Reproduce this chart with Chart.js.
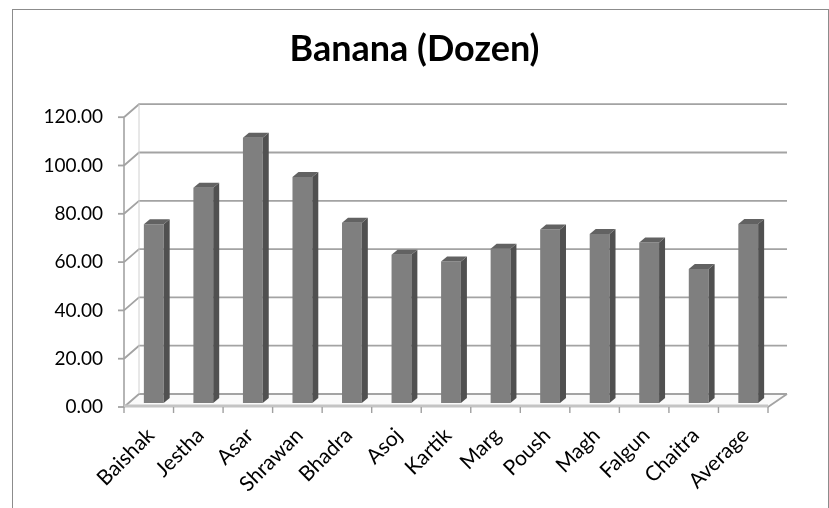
<!DOCTYPE html>
<html lang="en">
<head>
    <meta charset="UTF-8">
    <title>Banana (Dozen)</title>
    <script src="https://cdn.jsdelivr.net/npm/chart.js@4.4.1/dist/chart.umd.min.js"></script>
    <style>
        html, body { margin: 0; padding: 0; background: #fff; overflow: hidden; }
        #wrap { position: relative; width: 829px; height: 508px; }
        #frame { position: absolute; left: 12px; top: 9px; width: 817px; height: 600px;
                 box-sizing: border-box; border: 1px solid #8c8c8c; pointer-events: none; }
        canvas { position: absolute; left: 0; top: 0; }
    </style>
</head>
<body>
<div id="wrap">
    <div id="frame"></div>
    <canvas id="bananaChart" width="829" height="508"></canvas>
</div>
<script>
    // months (Nepali calendar) + yearly average
    const months = ['Baishak', 'Jestha', 'Asar', 'Shrawan', 'Bhadra', 'Asoj', 'Kartik',
                    'Marg', 'Poush', 'Magh', 'Falgun', 'Chaitra', 'Average'];
    const bananaPrice = [74.0, 89.1, 109.8, 93.6, 74.6, 61.4, 58.6, 63.9, 71.8, 70.0, 66.5, 55.5, 74.1];
    const yTicks = [0, 20, 40, 60, 80, 100, 120];

    // fake 3d depth
    const WALL_DX = 15, WALL_DX_R = 19, WALL_DY = -13;
    const BAR_DX = 5, BAR_DY = -4;
    const SIDE_W = 6, TOP_H = 5;

    const pseudo3d = {
        id: 'pseudo3d',
        beforeDatasetsDraw(chart) {
            const { ctx, chartArea: a, scales: { x, y } } = chart;
            ctx.save();
            // floor
            ctx.fillStyle = '#fafafa';
            ctx.beginPath();
            ctx.moveTo(a.left, a.bottom);
            ctx.lineTo(a.right, a.bottom);
            ctx.lineTo(a.right + WALL_DX_R, a.bottom + WALL_DY);
            ctx.lineTo(a.left + WALL_DX, a.bottom + WALL_DY);
            ctx.closePath();
            ctx.fill();

            // back wall gridlines + left wall diagonals
            ctx.strokeStyle = '#a3a3a3';
            ctx.lineWidth = 1.8;
            yTicks.forEach(v => {
                const py = y.getPixelForValue(v);
                ctx.beginPath();
                ctx.moveTo(a.left, py);
                ctx.lineTo(a.left + WALL_DX, py + WALL_DY);
                ctx.lineTo(a.right + WALL_DX_R, py + WALL_DY);
                ctx.stroke();
                // tick mark
                ctx.beginPath();
                ctx.moveTo(a.left - 6, py);
                ctx.lineTo(a.left, py);
                ctx.stroke();
            });
            // floor right edge
            ctx.beginPath();
            ctx.moveTo(a.right, a.bottom);
            ctx.lineTo(a.right + WALL_DX_R, a.bottom + WALL_DY);
            ctx.stroke();
            // back left edge (faint)
            ctx.strokeStyle = '#d0d0d0';
            ctx.lineWidth = 1;
            ctx.beginPath();
            ctx.moveTo(a.left + WALL_DX, y.getPixelForValue(120) + WALL_DY);
            ctx.lineTo(a.left + WALL_DX, a.bottom + WALL_DY);
            ctx.stroke();

            // front vertical axis
            ctx.strokeStyle = '#a3a3a3';
            ctx.lineWidth = 1.6;
            ctx.beginPath();
            ctx.moveTo(a.left, a.top);
            ctx.lineTo(a.left, a.bottom);
            ctx.stroke();

            // front floor edge
            ctx.strokeStyle = '#c4c4c4';
            ctx.lineWidth = 3;
            ctx.beginPath();
            ctx.moveTo(a.left, a.bottom - 1);
            ctx.lineTo(a.right, a.bottom - 1);
            ctx.stroke();

            // category tick marks
            ctx.strokeStyle = '#a0a0a0';
            ctx.lineWidth = 1.4;
            const slot = (a.right - a.left) / months.length;
            for (let i = 0; i <= months.length; i++) {
                const px = a.left + i * slot;
                ctx.beginPath();
                ctx.moveTo(px, a.bottom);
                ctx.lineTo(px, a.bottom + 6);
                ctx.stroke();
            }
            ctx.restore();

            ctx.save();
            ctx.translate(BAR_DX, BAR_DY);
        },
        afterDatasetsDraw(chart) {
            const { ctx } = chart;
            chart.getDatasetMeta(0).data.forEach(bar => {
                const r = bar.x + bar.width / 2;
                const l = bar.x - bar.width / 2;
                // side
                ctx.fillStyle = '#505050';
                ctx.beginPath();
                ctx.moveTo(r, bar.y);
                ctx.lineTo(r + SIDE_W, bar.y - TOP_H);
                ctx.lineTo(r + SIDE_W, bar.base - TOP_H);
                ctx.lineTo(r, bar.base);
                ctx.closePath();
                ctx.fill();
                // top
                ctx.fillStyle = '#626262';
                ctx.beginPath();
                ctx.moveTo(l, bar.y);
                ctx.lineTo(l + SIDE_W, bar.y - TOP_H);
                ctx.lineTo(r + SIDE_W, bar.y - TOP_H);
                ctx.lineTo(r, bar.y);
                ctx.closePath();
                ctx.fill();
            });
            ctx.restore();
        }
    };

    new Chart(document.getElementById('bananaChart').getContext('2d'), {
        type: 'bar',
        data: {
            labels: months,
            datasets: [{
                label: 'Banana (Dozen)',
                data: bananaPrice,
                backgroundColor: '#7f7f7f',
                borderWidth: 0,
                categoryPercentage: 1.0,
                barPercentage: 0.4
            }]
        },
        options: {
            responsive: false,
            animation: false,
            layout: { padding: 0 },
            scales: {
                x: {
                    grid: { display: false },
                    border: { display: false },
                    ticks: {
                        color: '#000',
                        font: { family: 'Lato', size: 21 },
                        minRotation: 45,
                        maxRotation: 45,
                        padding: 8,
                        labelOffset: 2
                    },
                    afterFit(scale) { scale.height = 101; }
                },
                y: {
                    min: 0,
                    max: 120,
                    grid: { display: false, drawTicks: false },
                    border: { display: false },
                    ticks: {
                        stepSize: 20,
                        color: '#000',
                        padding: 21,
                        font: { family: 'Lato', size: 19 },
                        callback: v => v.toFixed(2)
                    },
                    afterFit(scale) { scale.width = 124; }
                },
                // empty right axis, only reserves the space to the right of the plot
                yRight: {
                    position: 'right',
                    min: 0,
                    max: 120,
                    grid: { display: false },
                    border: { display: false },
                    ticks: { display: false },
                    afterFit(scale) { scale.width = 61; }
                }
            },
            plugins: {
                legend: { display: false },
                tooltip: { enabled: false },
                title: {
                    display: true,
                    text: 'Banana (Dozen)',
                    color: '#000',
                    font: { family: 'Lato', size: 36, weight: 'bold' },
                    padding: { top: 28, bottom: 46 }
                }
            }
        },
        plugins: [pseudo3d]
    });
</script>
</body>
</html>
